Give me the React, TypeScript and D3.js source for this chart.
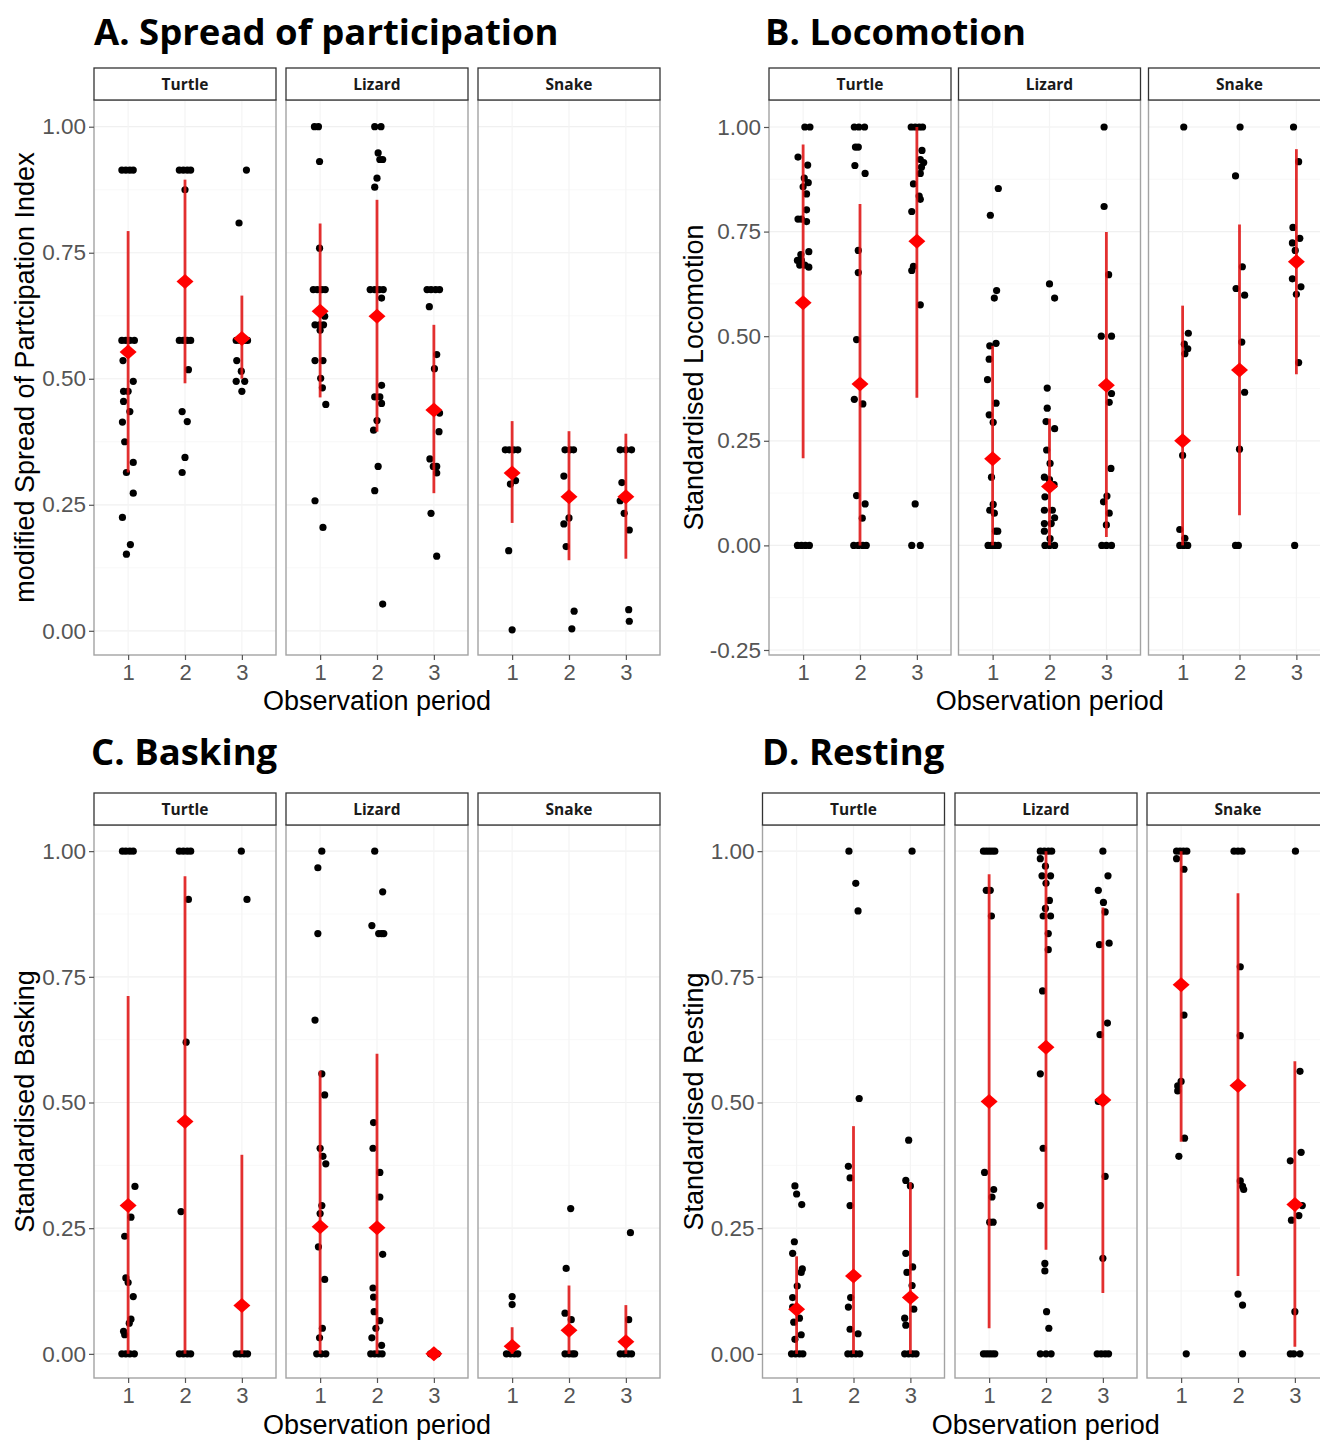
import React, { useEffect, useRef } from 'react';
import * as d3 from 'd3';

const species = ['Turtle', 'Lizard', 'Snake'];
const periods = [1, 2, 3];
const ticks01 = [0, 0.25, 0.5, 0.75, 1];
const ticksLoco = [-0.25, 0, 0.25, 0.5, 0.75, 1];

// jittered observations, one list per observation period: [value, jitter in period units]
const spreadTurtle = [
  [[.914, -.11], [.914, -.04], [.914, .03], [.914, .09], [.576, -.11], [.576, -.04], [.576, .03], [.576, .11], [.536, -.09], [.495, .09], [.475, -.08], [.475, 0], [.455, -.08], [.435, .03], [.414, -.1], [.375, -.06], [.334, .09], [.314, -.03], [.273, .09], [.225, -.1], [.171, .04], [.152, -.03]],
  [[.914, -.1], [.914, -.03], [.914, .04], [.914, .1], [.875, 0], [.576, -.1], [.576, -.03], [.576, .04], [.576, .1], [.518, .06], [.435, -.05], [.415, .04], [.344, 0], [.314, -.05]],
  [[.914, .08], [.809, -.05], [.576, -.1], [.576, -.03], [.576, .04], [.576, .1], [.536, -.09], [.515, -.01], [.495, -.1], [.495, .05], [.475, 0]],
];
const spreadLizard = [
  [[1, -.1], [1, -.03], [.931, -.01], [.759, -.01], [.677, -.12], [.677, -.05], [.677, .03], [.677, .09], [.624, .08], [.607, -.09], [.607, -.01], [.607, .06], [.596, 0], [.536, -.09], [.536, .05], [.501, .01], [.482, .04], [.449, .1], [.258, -.09], [.205, .05]],
  [[1, -.04], [1, .07], [.948, .02], [.935, .05], [.935, .1], [.898, 0], [.880, -.04], [.677, -.12], [.677, -.04], [.677, .04], [.677, .11], [.660, .08], [.487, .08], [.464, -.04], [.464, .05], [.451, .08], [.417, 0], [.398, -.06], [.326, .02], [.278, -.04], [.053, .1]],
  [[.677, -.12], [.677, -.05], [.677, .03], [.677, .1], [.643, -.08], [.548, .05], [.520, .01], [.432, .1], [.395, .09], [.341, -.07], [.326, -.01], [.326, .05], [.313, .05], [.233, -.05], [.148, .05]],
];
const spreadSnake = [
  [[.359, -.12], [.359, -.05], [.359, .03], [.359, .1], [.298, .06], [.291, -.03], [.159, -.06], [.002, 0]],
  [[.359, -.07], [.359, .02], [.359, .08], [.307, -.09], [.224, 0], [.212, -.09], [.167, -.05], [.039, .09], [.004, .05]],
  [[.359, -.1], [.359, 0], [.359, .1], [.294, -.07], [.258, -.1], [.233, -.03], [.2, .06], [.042, .05], [.019, .06]],
];
// [species, period, mean, lower, upper]
const spreadMeans = [
  ['Turtle', 1, .553, .314, .793], ['Turtle', 2, .693, .491, .895], ['Turtle', 3, .58, .5, .665],
  ['Lizard', 1, .634, .463, .808], ['Lizard', 2, .624, .395, .855], ['Lizard', 3, .438, .273, .607],
  ['Snake', 1, .313, .214, .416], ['Snake', 2, .266, .14, .396], ['Snake', 3, .266, .143, .391],
];

const locoTurtle = [
  [[1, .03], [1, .12], [.928, -.09], [.909, .08], [.878, .02], [.867, .09], [.857, 0], [.840, .06], [.802, .06], [.780, -.09], [.780, -.03], [.774, .06], [.702, .1], [.695, -.04], [.681, -.1], [.681, -.03], [.670, -.06], [.670, .03], [.665, .1], [0, -.1], [0, -.03], [0, .04], [0, .11]],
  [[1, -.1], [1, -.02], [1, .08], [.952, -.08], [.952, -.03], [.908, -.09], [.889, .09], [.705, -.03], [.652, -.03], [.492, -.06], [.349, -.1], [.338, .05], [.119, -.06], [.099, .09], [.065, .04], [0, -.11], [0, -.03], [0, .05], [0, .11]],
  [[1, -.1], [1, -.03], [1, .04], [1, .1], [.944, .09], [.922, .06], [.915, .12], [.904, .08], [.889, .06], [.864, -.06], [.835, .04], [.827, .06], [.798, -.09], [.667, -.06], [.657, -.09], [.575, .06], [.099, -.03], [0, -.09], [0, .06]],
];
const locoLizard = [
  [[.853, .1], [.789, -.04], [.609, .07], [.591, .03], [.483, .06], [.477, -.05], [.445, -.06], [.396, -.09], [.340, .06], [.312, -.06], [.294, .01], [.163, -.02], [.098, .01], [.084, -.05], [.077, .03], [.034, .05], [.034, .09], [0, -.08], [0, -.02], [0, .04], [0, .1]],
  [[.625, 0], [.591, .09], [.376, -.04], [.328, -.04], [.296, -.06], [.279, .09], [.228, -.05], [.196, .01], [.163, -.09], [.157, 0], [.145, .08], [.116, -.08], [.084, -.09], [.084, .05], [.066, .09], [.052, -.09], [.052, .03], [.034, -.09], [.016, .01], [0, -.08], [0, 0], [0, .09]],
  [[1, -.04], [.810, -.04], [.647, .04], [.5, -.09], [.5, .09], [.363, .09], [.342, .05], [.184, .08], [.118, .01], [.104, -.05], [.077, .05], [.049, 0], [0, -.08], [0, 0], [0, .09]],
];
const locoSnake = [
  [[1, .02], [.507, .1], [.481, .03], [.470, .09], [.458, .04], [.215, 0], [.038, -.05], [.017, .04], [0, -.05], [0, .02], [0, .09]],
  [[1, .01], [.883, -.07], [.666, .05], [.614, -.06], [.598, .09], [.486, .04], [.366, .09], [.230, 0], [0, -.07], [0, -.02]],
  [[1, -.05], [.917, .04], [.760, -.06], [.734, .06], [.723, -.07], [.705, -.02], [.637, -.07], [.618, .08], [.6, 0], [.437, .04], [0, -.03]],
];
const locoMeans = [
  ['Turtle', 1, .58, .208, .958], ['Turtle', 2, .386, 0, .816], ['Turtle', 3, .727, .353, 1],
  ['Lizard', 1, .207, 0, .477], ['Lizard', 2, .141, 0, .303], ['Lizard', 3, .383, .02, .749],
  ['Snake', 1, .25, 0, .573], ['Snake', 2, .419, .072, .767], ['Snake', 3, .678, .409, .947],
];

const baskTurtle = [
  [[1, -.1], [1, -.04], [1, .03], [1, .09], [.333, .12], [.272, .05], [.234, -.06], [.151, -.04], [.142, 0], [.114, .09], [.069, .05], [.061, .02], [.045, -.08], [.038, -.06], [0, -.11], [0, -.04], [0, .03], [0, .11]],
  [[1, -.1], [1, -.03], [1, .04], [1, .1], [.904, .06], [.62, .02], [.283, -.07], [0, -.1], [0, -.03], [0, .04], [0, .1]],
  [[1, -.01], [.904, .09], [0, -.1], [0, -.03], [0, .04], [0, .1]],
];
const baskLizard = [
  [[1, .03], [.967, -.04], [.836, -.04], [.664, -.09], [.557, .03], [.515, .08], [.409, 0], [.393, .05], [.378, .1], [.295, .03], [.279, 0], [.213, -.03], [.148, .08], [.051, .04], [.032, -.01], [0, -.06], [0, .02], [0, .1]],
  [[1, -.04], [.919, .1], [.852, -.09], [.836, .03], [.836, .08], [.836, .12], [.460, -.06], [.409, -.07], [.361, .05], [.312, .05], [.198, .1], [.131, -.07], [.113, -.06], [.084, -.05], [.066, .05], [.051, -.02], [.032, -.09], [.017, .08], [0, -.11], [0, -.04], [0, .03], [0, .09]],
  [[0, -.06], [0, 0], [0, .06]],
];
const baskSnake = [
  [[.114, 0], [.098, 0], [0, -.1], [0, -.03], [0, .04], [0, .1]],
  [[.289, .03], [.170, -.05], [.081, -.07], [.068, .04], [0, -.07], [0, 0], [0, .06], [0, .1]],
  [[.241, .08], [.068, .05], [0, -.1], [0, -.03], [0, .04], [0, .1]],
];
const baskMeans = [
  ['Turtle', 1, .295, 0, .712], ['Turtle', 2, .462, 0, .95], ['Turtle', 3, .096, 0, .396],
  ['Lizard', 1, .253, 0, .563], ['Lizard', 2, .251, 0, .597], ['Lizard', 3, 0, 0, 0],
  ['Snake', 1, .015, 0, .053], ['Snake', 2, .047, 0, .136], ['Snake', 3, .024, 0, .097],
];

const restTurtle = [
  [[.334, -.03], [.318, 0], [.297, .09], [.223, -.04], [.2, -.07], [.169, .1], [.162, .08], [.135, .01], [.112, -.07], [.093, -.07], [.071, .05], [.063, -.05], [.038, .08], [.029, -.03], [0, -.09], [0, -.02], [0, .05], [0, .11]],
  [[1, -.08], [.936, .04], [.881, .08], [.508, .1], [.373, -.09], [.350, -.06], [.295, -.06], [.112, -.05], [.093, -.09], [.049, -.06], [.040, .08], [0, -.1], [0, -.03], [0, .04], [0, .11]],
  [[1, .03], [.425, -.03], [.345, -.08], [.334, 0], [.2, -.08], [.173, .04], [.162, -.06], [.136, .03], [.089, .06], [.071, -.1], [.057, -.08], [0, -.1], [0, -.03], [0, .04], [0, .1]],
];
const restLizard = [
  [[1, -.1], [1, -.05], [1, 0], [1, .05], [1, .1], [.922, -.05], [.922, .02], [.871, .04], [.361, -.08], [.327, .08], [.312, .05], [.262, .01], [.262, .07], [0, -.1], [0, -.05], [0, 0], [0, .05], [0, .1]],
  [[1, -.1], [1, -.03], [1, .04], [1, .1], [.985, -.1], [.970, -.01], [.951, -.07], [.951, .08], [.936, 0], [.902, .06], [.886, -.01], [.871, -.05], [.871, .08], [.836, .04], [.804, .04], [.722, -.06], [.557, -.1], [.409, -.05], [.295, -.1], [.180, -.02], [.165, -.02], [.084, .01], [.051, .05], [0, -.1], [0, 0], [0, .09]],
  [[1, 0], [.951, .09], [.922, -.08], [.898, .01], [.879, .04], [.817, .11], [.814, -.06], [.658, .08], [.635, -.05], [.502, -.08], [.353, .04], [.190, 0], [0, -.1], [0, -.03], [0, .04], [0, .1]],
];
const restSnake = [
  [[1, -.08], [1, -.02], [1, .04], [1, .1], [.985, -.08], [.964, .05], [.674, .05], [.542, 0], [.533, -.06], [.523, -.06], [.429, .06], [.393, -.04], [0, .09]],
  [[1, -.07], [1, 0], [1, .07], [.770, .04], [.633, .04], [.344, .04], [.333, .08], [.327, .1], [.119, 0], [.097, .08], [0, .08]],
  [[1, .01], [.562, .09], [.401, .11], [.384, -.08], [.295, .13], [.275, .07], [.266, -.06], [.084, 0], [0, -.08], [0, -.02], [0, .09]],
];
const restMeans = [
  ['Turtle', 1, .089, 0, .194], ['Turtle', 2, .155, 0, .453], ['Turtle', 3, .112, 0, .341],
  ['Lizard', 1, .502, .051, .954], ['Lizard', 2, .61, .207, 1], ['Lizard', 3, .505, .121, .888],
  ['Snake', 1, .734, .422, 1], ['Snake', 2, .534, .155, .916], ['Snake', 3, .297, .014, .582],
];

const W = 1320;
const H = 1441;
const FACET_W = 182;
const SANS = '"Liberation Sans", Arial, sans-serif';
const TITLE_FONT = '"Open Sans", Lato, sans-serif';
const fmt = d3.formatLocale({ decimal: '.', thousands: ',', grouping: [3], currency: ['', ''], minus: '-' }).format('.2f');

const panels = [
  {
    title: 'A. Spread of participation', titleX: 94, titleY: 45,
    ylab: 'modified Spread of Partcipation Index', ylabX: 34,
    points: [spreadTurtle, spreadLizard, spreadSnake], means: spreadMeans,
    domain: [-0.048, 1.053], ticks: ticks01,
    facetX: [94, 286, 478], stripTop: 68, top: 100, bottom: 655, xlabY: 710,
  },
  {
    title: 'B. Locomotion', titleX: 765, titleY: 45,
    ylab: 'Standardised Locomotion', ylabX: 703,
    points: [locoTurtle, locoLizard, locoSnake], means: locoMeans,
    domain: [-0.262, 1.0645], ticks: ticksLoco,
    facetX: [769, 958.5, 1148.5], stripTop: 68, top: 100, bottom: 655, xlabY: 710,
  },
  {
    title: 'C. Basking', titleX: 91, titleY: 765,
    ylab: 'Standardised Basking', ylabX: 34,
    points: [baskTurtle, baskLizard, baskSnake], means: baskMeans,
    domain: [-0.048, 1.052], ticks: ticks01,
    facetX: [94, 286, 478], stripTop: 793, top: 825, bottom: 1378, xlabY: 1434,
  },
  {
    title: 'D. Resting', titleX: 762, titleY: 765,
    ylab: 'Standardised Resting', ylabX: 703,
    points: [restTurtle, restLizard, restSnake], means: restMeans,
    domain: [-0.048, 1.052], ticks: ticks01,
    facetX: [762.5, 955, 1147], stripTop: 793, top: 825, bottom: 1378, xlabY: 1434,
  },
];

function drawPanel(svg, p) {
  const y = d3.scaleLinear().domain(p.domain).range([p.bottom, p.top]);
  const g = svg.append('g');
  const minor = d3.pairs(p.ticks).map(([a, b]) => (a + b) / 2);

  g.append('text')
    .attr('x', p.titleX)
    .attr('y', p.titleY)
    .attr('font-family', TITLE_FONT)
    .attr('font-weight', 700)
    .attr('font-size', 36.5)
    .attr('fill', '#000')
    .text(p.title);

  species.forEach((sp, i) => {
    const x0 = p.facetX[i];
    const x = d3.scaleLinear().domain([0.4, 3.6]).range([x0, x0 + FACET_W]);
    const f = g.append('g');

    f.append('rect')
      .attr('x', x0).attr('y', p.top)
      .attr('width', FACET_W).attr('height', p.bottom - p.top)
      .attr('fill', '#fff');

    f.selectAll('line.minor').data(minor).join('line')
      .attr('class', 'minor')
      .attr('x1', x0).attr('x2', x0 + FACET_W)
      .attr('y1', (d) => y(d)).attr('y2', (d) => y(d))
      .attr('stroke', '#f6f6f6').attr('stroke-width', 0.8);
    f.selectAll('line.major').data(p.ticks).join('line')
      .attr('class', 'major')
      .attr('x1', x0).attr('x2', x0 + FACET_W)
      .attr('y1', (d) => y(d)).attr('y2', (d) => y(d))
      .attr('stroke', '#f0f0f0').attr('stroke-width', 1.2);
    f.selectAll('line.vgrid').data(periods).join('line')
      .attr('class', 'vgrid')
      .attr('x1', (d) => x(d)).attr('x2', (d) => x(d))
      .attr('y1', p.top).attr('y2', p.bottom)
      .attr('stroke', '#f4f4f4').attr('stroke-width', 1.2);

    const pts = p.points[i].flatMap((arr, k) => arr.map(([v, j]) => ({ period: periods[k], v, j })));
    f.selectAll('circle.obs').data(pts).join('circle')
      .attr('class', 'obs')
      .attr('cx', (d) => x(d.period + d.j))
      .attr('cy', (d) => y(d.v))
      .attr('r', 3.6)
      .attr('fill', '#000');

    const sums = p.means.filter((m) => m[0] === sp);
    f.selectAll('line.err').data(sums).join('line')
      .attr('class', 'err')
      .attr('x1', (d) => x(d[1])).attr('x2', (d) => x(d[1]))
      .attr('y1', (d) => y(d[3])).attr('y2', (d) => y(d[4]))
      .attr('stroke', '#e01414').attr('stroke-width', 2.8)
      .attr('opacity', 0.88);
    f.selectAll('path.mean').data(sums).join('path')
      .attr('class', 'mean')
      .attr('transform', (d) => `translate(${x(d[1])},${y(d[2])})`)
      .attr('d', 'M0,-7.5L8.5,0L0,7.5L-8.5,0Z')
      .attr('fill', '#ff0000');

    f.append('rect')
      .attr('x', x0).attr('y', p.top)
      .attr('width', FACET_W).attr('height', p.bottom - p.top)
      .attr('fill', 'none').attr('stroke', '#a3a3a3').attr('stroke-width', 1.4);

    f.append('rect')
      .attr('x', x0).attr('y', p.stripTop)
      .attr('width', FACET_W).attr('height', p.top - p.stripTop)
      .attr('fill', '#fff').attr('stroke', '#333').attr('stroke-width', 1.3);
    f.append('text')
      .attr('x', x0 + FACET_W / 2)
      .attr('y', (p.stripTop + p.top) / 2 + 5.5)
      .attr('text-anchor', 'middle')
      .attr('font-family', TITLE_FONT)
      .attr('font-weight', 700)
      .attr('font-size', 15.5)
      .attr('fill', '#1a1a1a')
      .text(sp);

    const ax = f.append('g')
      .attr('transform', `translate(0,${p.bottom})`)
      .call(d3.axisBottom(x).tickValues(periods).tickFormat(d3.format('d')).tickSize(5).tickPadding(4));
    ax.select('.domain').remove();
    ax.attr('font-family', SANS).attr('font-size', 22);
    ax.selectAll('text').attr('fill', '#555');
    ax.selectAll('line').attr('stroke', '#555').attr('stroke-width', 1.2);
  });

  const ay = g.append('g')
    .attr('transform', `translate(${p.facetX[0]},0)`)
    .call(d3.axisLeft(y).tickValues(p.ticks).tickFormat(fmt).tickSize(5).tickPadding(3));
  ay.select('.domain').remove();
  ay.attr('font-family', SANS).attr('font-size', 22.5);
  ay.selectAll('text').attr('fill', '#555');
  ay.selectAll('line').attr('stroke', '#555').attr('stroke-width', 1.2);

  g.append('text')
    .attr('transform', `translate(${p.ylabX},${(p.top + p.bottom) / 2}) rotate(-90)`)
    .attr('text-anchor', 'middle')
    .attr('font-family', SANS)
    .attr('font-size', 27)
    .attr('fill', '#000')
    .text(p.ylab);

  g.append('text')
    .attr('x', p.facetX[0] + (3 * FACET_W + (p.facetX[2] - p.facetX[0] - 2 * FACET_W)) / 2)
    .attr('y', p.xlabY)
    .attr('text-anchor', 'middle')
    .attr('font-family', SANS)
    .attr('font-size', 27)
    .attr('fill', '#000')
    .text('Observation period');
}

export default function App() {
  const ref = useRef(null);

  useEffect(() => {
    const svg = d3.select(ref.current);
    svg.selectAll('*').remove();
    svg.append('rect').attr('width', W).attr('height', H).attr('fill', '#fff');
    panels.forEach((p) => drawPanel(svg, p));
  }, []);

  return (
    <svg
      ref={ref}
      width={W}
      height={H}
      style={{ position: 'absolute', left: 0, top: 0, display: 'block' }}
    />
  );
}
